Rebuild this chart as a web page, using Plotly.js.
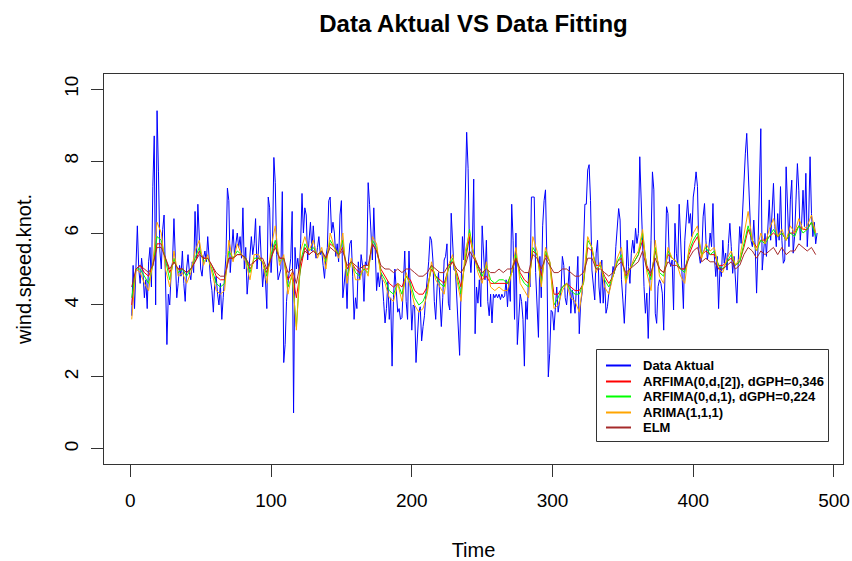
<!DOCTYPE html>
<html>
<head>
<meta charset="utf-8">
<script src="https://cdn.plot.ly/plotly-3.0.1.min.js"></script>
<style>html,body{margin:0;padding:0;background:#fff;}#chart{width:852px;height:561px;}</style>
</head>
<body>
<div id="chart"></div>
<script>
// Data Aktual (t = 1..488)
const aktual = [
3.7,5.1,3.9,4.9,6.2,5.0,4.6,5.3,4.9,4.2,
4.7,3.9,5.2,5.6,4.5,7.3,8.7,4.0,9.4,7.7,
5.5,5.0,6.1,6.5,4.6,2.9,4.3,4.0,4.9,5.2,
6.4,5.0,4.2,4.6,5.1,4.8,5.5,4.6,4.1,5.0,
5.4,4.9,4.7,5.2,4.9,6.6,5.3,6.8,5.6,5.0,
4.8,5.3,5.5,5.2,5.9,5.1,4.7,4.4,3.8,4.6,
4.8,4.3,4.0,4.6,3.6,4.2,4.8,5.4,7.25,6.9,
4.9,5.5,6.1,5.4,5.7,6.0,5.6,5.9,5.3,6.7,
5.0,5.6,4.3,4.9,5.25,5.9,5.4,5.7,6.4,5.0,
5.5,6.2,5.3,4.5,5.0,4.7,3.9,7.0,6.7,4.9,
5.6,8.1,7.4,5.4,4.7,4.9,5.0,7.15,2.4,2.9,
4.1,4.6,5.0,5.3,6.6,1.0,5.6,5.0,5.3,4.9,
5.7,7.1,6.0,6.7,6.5,5.25,5.8,6.3,5.5,6.2,
5.6,5.3,5.6,5.9,5.4,5.5,5.1,4.74,5.35,5.6,
6.9,7.0,6.0,6.3,6.0,5.35,5.7,5.2,6.5,6.9,
4.2,4.7,5.0,3.9,5.2,5.7,5.8,4.8,3.6,4.2,
3.9,5.2,4.7,5.4,5.1,4.1,5.2,5.1,7.4,6.8,
6.0,5.25,6.7,5.35,4.4,4.9,4.5,4.9,4.7,4.1,
3.5,3.9,4.65,3.6,4.2,2.3,4.2,5.0,4.4,3.8,
3.9,3.6,3.65,4.6,5.5,4.1,3.6,5.5,4.1,3.3,
4.0,3.95,2.4,3.1,3.8,3.95,3.0,3.4,3.7,4.3,
4.7,5.2,5.9,5.8,5.25,4.1,3.6,4.5,4.9,3.95,
3.4,4.2,5.25,5.35,5.7,4.05,3.86,6.55,5.9,4.97,
4.97,4.3,3.3,2.6,4.4,5.9,5.25,6.9,8.8,7.8,
5.5,4.9,5.6,7.5,3.2,4.5,4.05,4.7,3.95,6.2,
5.4,4.7,5.8,4.1,3.7,4.3,3.5,4.3,4.2,4.3,
4.2,4.3,4.15,4.3,4.2,4.25,4.7,3.95,4.65,4.1,
6.8,5.8,3.6,6.0,2.9,3.8,4.3,4.1,3.6,2.3,
4.1,3.6,4.9,4.5,7.0,7.0,7.0,4.9,4.1,3.1,
5.35,4.2,6.2,6.9,7.2,5.25,2.0,2.65,3.85,3.8,
3.3,4.05,4.5,3.8,4.15,4.4,5.35,5.1,4.2,4.0,
4.5,5.07,3.77,4.42,4.14,3.77,4.5,5.35,3.2,4.05,
4.33,5.53,6.8,6.8,7.75,7.9,6.9,4.97,4.42,4.14,
5.44,5.8,4.5,4.05,5.25,4.05,4.7,3.77,3.95,4.33,
4.5,4.7,5.07,4.88,5.62,6.2,6.68,6.36,4.7,4.14,
3.49,4.33,5.8,5.07,4.6,5.44,5.8,5.44,6.13,5.71,
5.99,8.12,6.8,5.8,4.51,3.77,4.33,3.07,4.33,5.8,
7.7,7.2,3.77,3.49,4.51,4.7,4.6,4.33,3.3,4.7,
6.73,6.54,5.25,5.07,5.25,3.86,6.27,5.44,5.07,6.8,
5.8,4.7,3.9,5.8,6.27,6.92,6.27,6.54,5.9,7.0,
7.29,7.7,7.29,5.44,5.16,5.35,6.45,6.82,5.8,5.25,
5.53,6.0,5.62,6.82,5.35,4.79,5.35,3.9,5.07,4.79,
5.8,5.16,5.44,4.97,5.71,6.27,5.62,4.88,5.35,4.7,
4.05,5.25,6.18,5.71,6.64,7.47,8.2,8.77,7.93,6.82,
5.8,5.62,6.36,5.62,4.33,5.62,7.1,8.9,4.97,5.62,
5.99,5.35,6.08,6.92,5.8,6.82,7.38,6.18,5.62,6.54,
5.8,7.29,5.8,5.16,5.25,7.84,6.36,5.62,6.92,7.47,
5.44,5.9,6.92,7.93,7.19,5.8,6.27,7.19,6.18,7.66,
5.62,6.36,8.12,6.54,5.9,6.3,5.7,6.0
];

// Fitted series, read every 3rd time step (t = 1, 4, 7, ..., 487)
const arfima2 = [
4.0,5.0,5.1,4.9,4.8,5.1,5.7,5.7,5.3,4.9,
5.2,5.0,5.0,4.9,5.0,5.2,5.5,5.3,5.3,5.1,
4.8,4.7,4.7,5.3,5.3,5.4,5.4,5.3,5.0,5.2,
5.3,5.2,4.9,5.3,5.7,5.3,5.3,4.7,4.9,4.2,
5.0,5.6,5.4,5.5,5.4,5.5,5.3,5.7,5.6,5.4,
5.6,5.0,5.2,5.0,4.9,5.0,5.0,5.7,5.5,5.0,
4.8,4.6,4.5,4.6,4.5,4.8,4.7,4.4,4.3,4.3,
4.5,5.0,4.8,4.7,4.6,5.0,5.2,4.9,4.5,5.2,
5.9,5.4,5.1,4.7,4.8,4.6,4.6,4.6,4.6,4.6,
4.9,5.3,4.9,4.7,4.6,5.5,5.4,4.8,5.4,5.2,
4.3,4.3,4.5,4.6,4.5,4.4,4.4,4.6,5.6,5.5,
5.1,5.1,4.8,4.6,4.8,5.2,5.3,4.8,5.0,5.2,
5.4,5.8,5.1,4.8,5.5,5.0,4.9,5.4,5.3,5.2,
5.0,5.0,5.4,5.7,5.9,5.4,5.5,5.4,5.4,5.1,
5.1,5.2,5.3,5.1,5.2,5.6,6.1,5.8,5.6,5.8,
5.8,5.9,6.0,5.9,6.0,5.8,6.0,6.0,6.2,6.1,
6.1,6.3,6.0
];
const arfima1 = [
4.2,5.0,5.0,4.8,4.6,5.1,5.9,5.8,5.2,4.7,
5.3,4.9,5.0,4.8,5.0,5.3,5.6,5.2,5.3,5.0,
4.6,4.5,4.6,5.5,5.3,5.5,5.4,5.3,4.9,5.3,
5.3,5.2,4.8,5.4,5.8,5.2,5.3,4.5,4.8,3.4,
5.2,5.7,5.5,5.6,5.4,5.5,5.2,5.8,5.6,5.4,
5.8,4.8,5.2,4.9,4.8,5.0,4.9,5.8,5.6,4.9,
4.7,4.4,4.3,4.6,4.3,4.8,4.6,4.2,4.0,4.1,
4.4,5.1,4.8,4.6,4.5,5.0,5.3,4.8,4.3,5.3,
6.1,5.4,5.0,4.8,5.1,4.7,4.6,4.7,4.7,4.6,
4.9,5.4,4.8,4.6,4.5,5.6,5.4,4.6,5.5,5.2,
4.0,4.2,4.5,4.6,4.4,4.3,4.3,4.6,5.8,5.6,
5.0,5.1,4.7,4.5,4.8,5.2,5.4,4.7,5.0,5.2,
5.4,6.0,5.0,4.7,5.6,4.9,4.8,5.5,5.3,5.2,
5.0,4.9,5.5,5.8,6.0,5.4,5.6,5.4,5.5,5.1,
5.0,5.2,5.4,5.1,5.2,5.7,6.2,5.8,5.5,5.8,
5.7,5.9,6.1,5.9,6.0,5.8,6.0,5.9,6.2,6.0,
6.1,6.3,5.9
];
const arima = [
3.6,5.0,4.9,4.6,4.4,5.2,6.3,6.0,5.0,4.5,
5.5,4.8,4.9,4.6,4.9,5.5,5.8,5.1,5.4,4.9,
4.4,4.3,4.4,5.8,5.2,5.7,5.4,5.2,4.7,5.4,
5.4,5.2,4.6,5.6,6.2,5.1,5.4,4.3,4.9,3.3,
5.5,5.9,5.5,5.8,5.3,5.6,5.0,6.0,5.6,5.3,
6.0,4.6,5.3,4.7,4.7,5.1,4.8,5.9,5.7,4.8,
4.6,4.2,4.1,4.6,4.1,4.9,4.5,4.0,3.8,3.9,
4.3,5.2,4.7,4.5,4.3,5.1,5.4,4.7,4.1,5.5,
6.0,5.4,4.9,4.6,5.2,4.5,4.4,4.5,4.4,4.4,
4.9,5.6,4.6,4.4,4.2,5.9,5.5,4.5,5.6,5.2,
3.9,4.0,4.4,4.6,4.2,4.1,3.8,4.7,5.9,5.6,
4.9,5.2,4.5,4.3,4.8,5.3,5.6,4.6,5.0,5.3,
5.5,6.1,4.9,4.4,5.8,4.8,4.6,5.6,5.3,5.2,
4.8,4.6,5.6,6.0,6.2,5.3,5.7,5.5,5.6,5.0,
4.9,5.3,5.5,5.1,5.3,5.9,6.6,5.8,5.5,6.0,
5.7,6.1,6.4,5.9,6.1,5.8,6.2,6.0,6.4,6.1,
6.2,6.5,6.0
];
const elm = [
4.5,5.0,5.1,5.0,4.9,5.1,5.6,5.6,5.3,5.0,
5.2,5.0,5.0,4.9,5.0,5.2,5.4,5.3,5.3,5.1,
4.9,4.8,4.8,5.3,5.3,5.4,5.4,5.3,5.1,5.2,
5.3,5.3,5.0,5.3,5.6,5.3,5.3,4.9,5.0,4.6,
5.2,5.5,5.4,5.5,5.4,5.5,5.3,5.6,5.5,5.4,
5.5,5.1,5.2,5.1,5.0,5.1,5.1,5.7,5.5,5.1,
5.0,5.0,4.9,5.0,4.9,5.0,5.0,4.9,4.8,4.8,
4.9,5.1,5.0,4.9,4.9,5.1,5.2,5.0,4.9,5.1,
5.5,5.3,5.1,4.9,5.0,4.9,4.9,5.0,4.9,5.0,
5.0,5.3,5.0,4.9,4.9,5.4,5.3,5.0,5.3,5.1,
4.9,4.9,5.0,5.0,4.9,4.8,4.8,4.9,5.3,5.3,
5.0,5.0,4.9,4.8,4.9,5.1,5.2,4.9,5.0,5.1,
5.2,5.5,5.0,4.9,5.3,5.0,4.9,5.2,5.1,5.1,
5.0,5.0,5.3,5.5,5.6,5.2,5.3,5.2,5.2,5.0,
5.0,5.1,5.2,5.0,5.1,5.4,5.6,5.5,5.3,5.5,
5.4,5.5,5.6,5.4,5.6,5.4,5.5,5.5,5.7,5.6,
5.5,5.6,5.4
];

const seriesNames = ['Data Aktual','ARFIMA(0,d,[2]), dGPH=0,346','ARFIMA(0,d,1), dGPH=0,224','ARIMA(1,1,1)','ELM'];
const seriesColors = ['#0000FF','#FF0000','#00FF00','#FFA500','#A52A2A'];
const xTicks = [0,100,200,300,400,500];
const yTicks = [0,2,4,6,8,10];

const time = aktual.map((_, i) => i + 1);
const fitTime = arfima2.map((_, i) => 1 + 3 * i);

const FONT = 'Liberation Sans, Arial, Helvetica, sans-serif';
const mk = (x, y, k) => ({x, y, name:seriesNames[k], type:'scatter', mode:'lines',
  line:{color:seriesColors[k], width:1}, hoverinfo:'skip', showlegend:false});

const data = [
  mk(time, aktual, 0),
  mk(fitTime, arfima2, 1),
  mk(fitTime, arfima1, 2),
  mk(fitTime, arima, 3),
  mk(fitTime, elm, 4)
];

// plot area in pixels: left 104, right 843, top 74, bottom 464
const PL = 104, PR = 843, PT = 74, PB = 464;
const px = v => (v - PL) / (PR - PL);
const py = v => (PB - v) / (PB - PT);

// legend (R style box) on an overlay axis pair measured in pixels
const LBOX = {x0:596.5, x1:828.5, y0:349.5, y1:441.5};
data.push({type:'scatter', mode:'lines', xaxis:'x2', yaxis:'y2', hoverinfo:'skip', showlegend:false,
  x:[LBOX.x0, LBOX.x1, LBOX.x1, LBOX.x0, LBOX.x0], y:[LBOX.y0, LBOX.y0, LBOX.y1, LBOX.y1, LBOX.y0],
  fill:'toself', fillcolor:'#fff', line:{color:'#333', width:1}});
const annotations = [];
seriesNames.forEach((name, i) => {
  const yy = Math.round(365 + 15.5 * i) + 0.5;
  data.push({type:'scatter', mode:'lines', xaxis:'x2', yaxis:'y2', hoverinfo:'skip', showlegend:false,
    x:[606, 631], y:[yy, yy], line:{color:seriesColors[i], width:2}});
  annotations.push({xref:'paper', yref:'paper', x:px(641), y:py(yy), xanchor:'left', yanchor:'middle',
    text:'<b>' + name + '</b>', showarrow:false, font:{family:FONT, size:13, color:'#000'}});
});

const axisCommon = {
  showgrid:false, zeroline:false, showline:true, mirror:true,
  linecolor:'#333', linewidth:1, ticks:'outside', ticklen:12, tickwidth:1, tickcolor:'#333',
  tickfont:{family:FONT, size:19, color:'#000'}
};

const layout = {
  width:852, height:561,
  margin:{l:PL, r:852-PR, t:PT, b:561-PB},
  paper_bgcolor:'#fff', plot_bgcolor:'#fff',
  font:{family:FONT, color:'#000'},
  showlegend:false,
  title:{text:'<b>Data Aktual VS Data Fitting</b>', font:{family:FONT, size:24, color:'#000'},
    x:0.5, xref:'paper', xanchor:'center', y:1-24/561, yref:'container', yanchor:'middle'},
  xaxis:Object.assign({}, axisCommon, {range:[-18.7,506.4], tickvals:xTicks, ticktext:xTicks.map(String),
    ticklabelstandoff:7,
    title:{text:'Time', font:{family:FONT, size:20, color:'#000'}, standoff:34}}),
  yaxis:Object.assign({}, axisCommon, {range:[-0.42,10.42], tickvals:yTicks, ticktext:yTicks.map(String), tickangle:-90,
    ticklabelstandoff:5,
    title:{text:'wind.speed.knot.', font:{family:FONT, size:20, color:'#000'}, standoff:24}}),
  xaxis2:{overlaying:'x', range:[PL, PR], visible:false, fixedrange:true},
  yaxis2:{overlaying:'y', range:[PB, PT], visible:false, fixedrange:true},
  annotations
};

Plotly.newPlot('chart', data, layout, {staticPlot:true, displayModeBar:false});
</script>
</body>
</html>
